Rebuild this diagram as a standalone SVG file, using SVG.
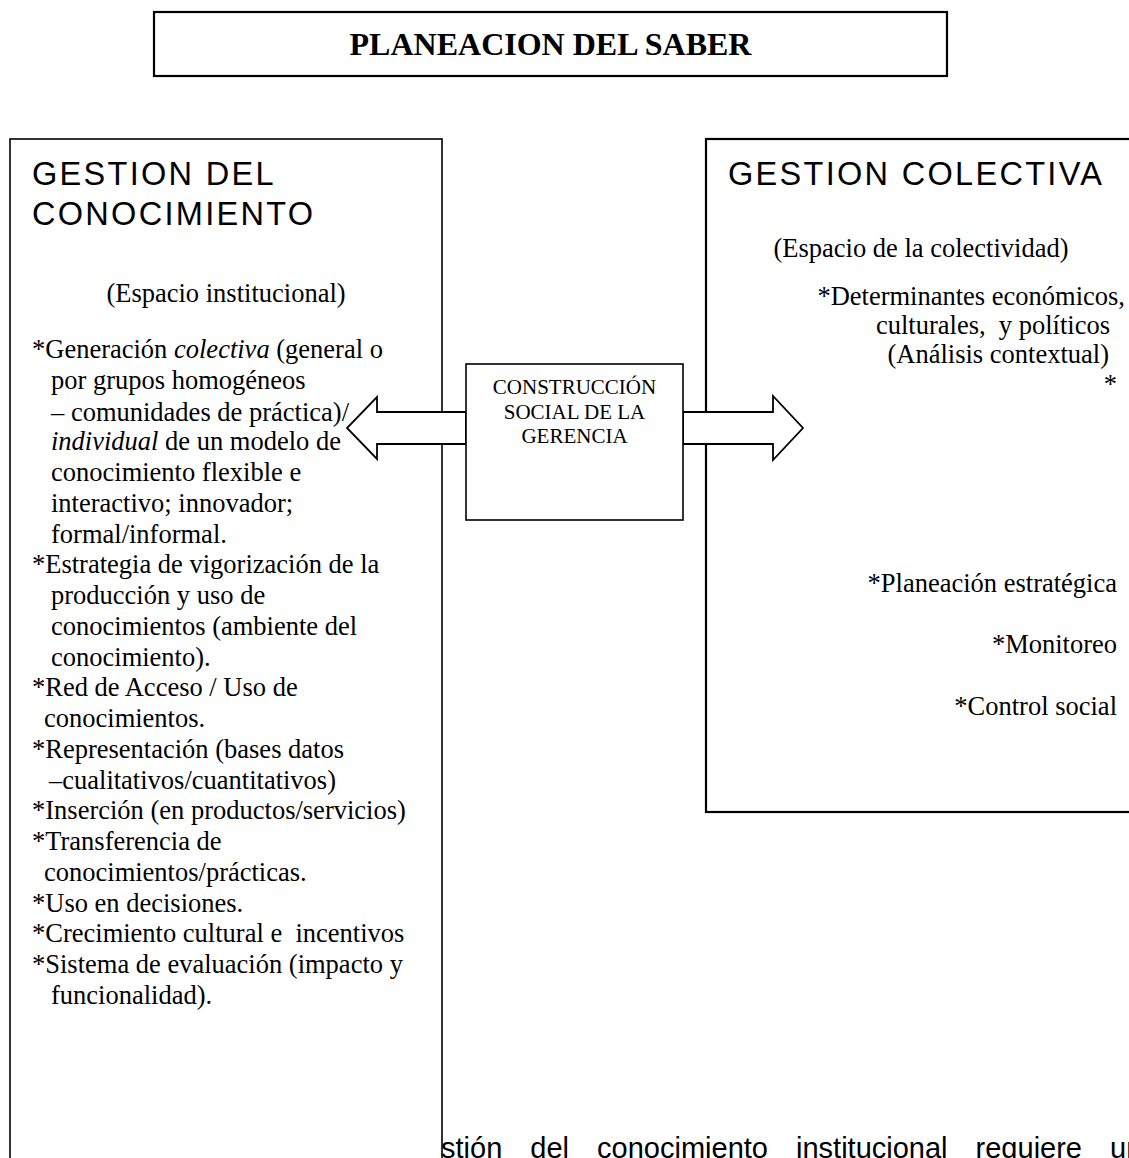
<svg xmlns="http://www.w3.org/2000/svg" width="1129" height="1158" viewBox="0 0 1129 1158">
<style>
.box{fill:#fff;stroke:#000;stroke-width:1.6}
.tb{fill:#fff;stroke:#000;stroke-width:2.2}
.arrow{fill:#fff;stroke:#000;stroke-width:1.8;stroke-linejoin:miter}
.serif{font-family:"Liberation Serif","Times New Roman",serif;font-size:26.5px;fill:#000}
.head{font-family:"Liberation Sans",Arial,sans-serif;font-size:32.5px;letter-spacing:2.3px;fill:#000}
.title{font-family:"Liberation Serif","Times New Roman",serif;font-size:32px;font-weight:bold;fill:#000}
.mid{font-family:"Liberation Serif","Times New Roman",serif;font-size:21px;fill:#000}
.body{font-family:"Liberation Sans",Arial,sans-serif;font-size:29px;fill:#000}
</style>
<rect width="1129" height="1158" fill="#fff"/>

<g id="title">
<rect class="tb" x="154" y="12" width="793" height="64"/>
<text class="title" x="550.5" y="55" text-anchor="middle">PLANEACION DEL SABER</text>
</g>

<g id="gestion-conocimiento">
<rect class="box" x="10" y="139" width="432" height="1040"/>
<text class="head" x="32" y="185">GESTION DEL</text>
<text class="head" x="32" y="225">CONOCIMIENTO</text>
<text class="serif" x="226" y="302" text-anchor="middle">(Espacio institucional)</text>
<g class="serif">
<text x="32" y="358">*Generación <tspan font-style="italic">colectiva</tspan> (general o</text>
<text x="51" y="389">por grupos homogéneos</text>
<text x="51" y="421">– comunidades de práctica)/</text>
<text x="51" y="450"><tspan font-style="italic">individual</tspan> de un modelo de</text>
<text x="51" y="481">conocimiento flexible e</text>
<text x="51" y="512">interactivo; innovador;</text>
<text x="51" y="543">formal/informal.</text>
<text x="32" y="573">*Estrategia de vigorización de la</text>
<text x="51" y="604">producción y uso de</text>
<text x="51" y="635">conocimientos (ambiente del</text>
<text x="51" y="665.5">conocimiento).</text>
<text x="32" y="696">*Red de Acceso / Uso de</text>
<text x="44" y="727">conocimientos.</text>
<text x="32" y="758">*Representación (bases datos</text>
<text x="49" y="788.5">–cualitativos/cuantitativos)</text>
<text x="32" y="819">*Inserción (en productos/servicios)</text>
<text x="32" y="850">*Transferencia de</text>
<text x="44" y="881">conocimientos/prácticas.</text>
<text x="32" y="911.5">*Uso en decisiones.</text>
<text x="32" y="942">*Crecimiento cultural e&#160; incentivos</text>
<text x="32" y="973">*Sistema de evaluación (impacto y</text>
<text x="51" y="1004">funcionalidad).</text>
</g>
</g>

<g id="gestion-colectiva">
<rect class="tb" x="706" y="139" width="440" height="673"/>
<text class="head" x="728" y="185">GESTION COLECTIVA</text>
<text class="serif" x="921" y="257" text-anchor="middle">(Espacio de la colectividad)</text>
<g class="serif" text-anchor="end">
<text x="1125" y="305">*Determinantes económicos,</text>
<text x="1110" y="334">culturales,&#160; y políticos</text>
<text x="1109" y="363">(Análisis contextual)</text>
<text x="1117" y="393">*</text>
<text x="1117" y="592">*Planeación estratégica</text>
<text x="1117" y="653">*Monitoreo</text>
<text x="1117" y="715">*Control social</text>
</g>
</g>

<g id="connectors">
<polygon class="arrow" points="466,412 377,412 377,397 347,428 377,459 377,444 466,444"/>
<polygon class="arrow" points="683,412 773,412 773,396 803,428 773,460 773,444 683,444"/>
</g>

<g id="construccion">
<rect class="box" x="466" y="364" width="217" height="156" stroke-width="1.3"/>
<text class="mid" x="574.5" y="394" text-anchor="middle">CONSTRUCCIÓN</text>
<text class="mid" x="574.5" y="419" text-anchor="middle">SOCIAL DE LA</text>
<text class="mid" x="574.5" y="443" text-anchor="middle">GERENCIA</text>
</g>

<g id="parrafo">
<text class="body" x="441" y="1158" word-spacing="20">stión del conocimiento institucional requiere un</text>
</g>
</svg>
